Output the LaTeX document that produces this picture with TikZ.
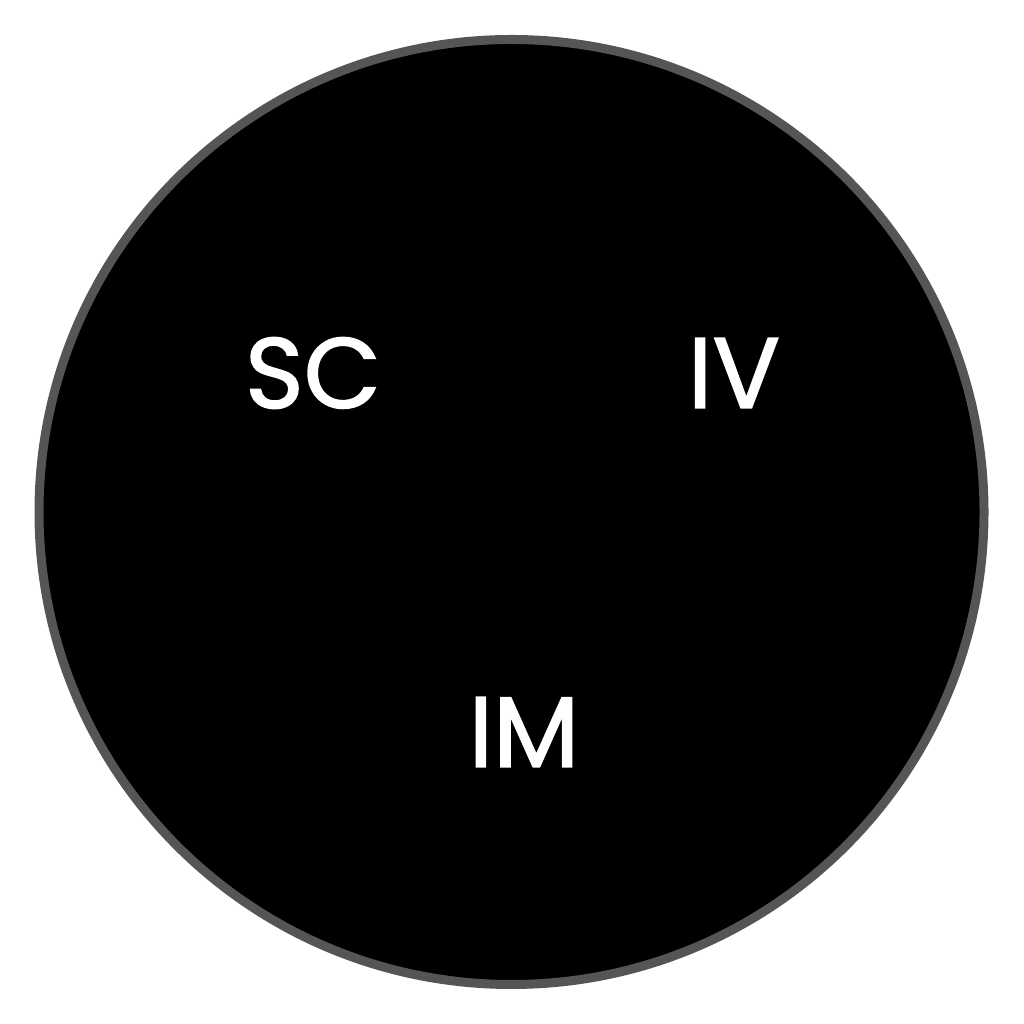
\documentclass[tikz,border=0pt]{standalone}
\usepackage{fontspec}
\setmainfont{Poppins}
\newfontfamily\lblfont{Poppins}[UprightFeatures={FakeBold=1.5}]
\begin{document}
\begin{tikzpicture}[x=1pt,y=1pt,
  lbl/.style={text=white,font=\lblfont\fontsize{100}{100}\selectfont,inner sep=0pt,anchor=center}]
\useasboundingbox[fill=white] (0,0) rectangle (1024,1024);
\node[circle,fill=black,draw={rgb,255:red,85;green,85;blue,85},line width=9pt,minimum size=945pt,inner sep=0pt] (disc) at (511.5,512) {};
\node[lbl] (sc) at (313,651) {\vphantom{I}SC};
\node[lbl] (iv) at (734,651) {\vphantom{I}IV};
\node[lbl] (im) at (524,292) {\vphantom{I}IM};
\end{tikzpicture}
\end{document}
